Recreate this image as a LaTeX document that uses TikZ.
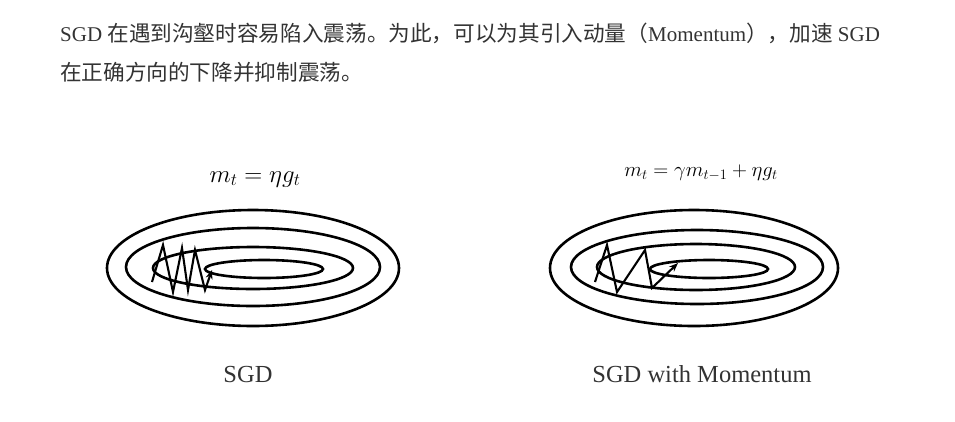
\documentclass[tikz,border=0pt]{standalone}
\usepackage[no-math]{fontspec}
\setmainfont{Liberation Serif}
\newfontfamily\cjk[Scale=1.03]{Noto Sans CJK SC}
\usetikzlibrary{arrows.meta}

\begin{document}
\begin{tikzpicture}[x=1pt, y=-1pt,
    contour/.style={line width=2.6pt},
    zigzag/.style={line width=2.1pt, line join=miter, -{Stealth[length=9pt, width=7pt]}},
    caption/.style={inner sep=0pt, anchor=base, text=black!80, font=\fontsize{24.5}{28}\selectfont},
    formula/.style={inner sep=0pt, anchor=base},
    body/.style={inner sep=0pt, anchor=base west, text=black!80, font=\fontsize{21}{25}\selectfont}]
    \useasboundingbox (0,0) rectangle (955,421);

    % Text
    \node[body] (line1) at (60,41) {SGD {\cjk 在遇到沟壑时容易陷入震荡。为此，可以为其引入动量（}Momentum{\cjk ），加速} SGD};
    \node[body] (line2) at (60,80) {{\cjk 在正确方向的下降并抑制震荡。}};

    % Left: plain SGD
    \node[formula, font=\fontsize{27}{31}\selectfont] (eqsgd) at (255,182) {$m_t = \eta g_t$};
    \draw[contour] (253,268) ellipse [x radius=146pt, y radius=58pt];
    \draw[contour] (253,267) ellipse [x radius=127pt, y radius=39pt];
    \draw[contour] (253,268) ellipse [x radius=100pt, y radius=21pt];
    \draw[contour] (264,269) ellipse [x radius=59pt, y radius=9pt];
    \draw[zigzag] (152,282) -- (163,245) -- (173,292) -- (182,248) -- (188,290)
        -- (195,250) -- (205,290) -- (212,270);
    \node[caption] (capsgd) at (248,382) {SGD};

    % Right: SGD with momentum
    \node[formula, font=\fontsize{22}{26}\selectfont] (eqmom) at (701,176) {$m_t = \gamma m_{t-1} + \eta g_t$};
    \draw[contour] (694,268) ellipse [x radius=144pt, y radius=58pt];
    \draw[contour] (697,267) ellipse [x radius=126pt, y radius=37pt];
    \draw[contour] (696,267) ellipse [x radius=99pt, y radius=23pt];
    \draw[contour] (709,269) ellipse [x radius=59pt, y radius=9pt];
    \draw[zigzag] (595,282) -- (607,245) -- (617,292) -- (645,250) -- (652,288) -- (678,263);
    \node[caption] (capmom) at (702,382) {SGD with Momentum};
\end{tikzpicture}
\end{document}
